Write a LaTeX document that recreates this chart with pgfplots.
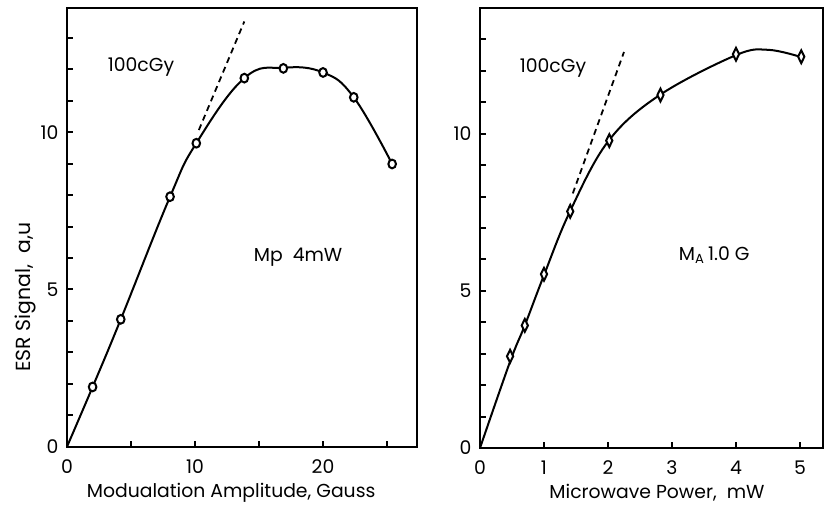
\documentclass[border=0pt]{standalone}
\usepackage{pgfplots}
\pgfplotsset{compat=1.18}
\usepackage{fontspec}
\setmainfont{Poppins}
\begin{document}
\fontsize{9.4}{11}\selectfont
\begin{tikzpicture}
\path[use as bounding box] (0,0) rectangle (412pt,255pt);
\pgfplotsset{
  every axis/.append style={
    scale only axis,
    axis line style={line width=1.2pt},
    /pgf/number format/assume math mode=true,
    every tick/.style={line width=1pt, black},
    every minor tick/.style={line width=1pt, black},
    major tick length=2.8pt, minor tick length=2.8pt,
    tick align=inside,
    xtick pos=bottom, ytick pos=left,
    ymin=0,
    ytick={0,5,10}, minor ytick={1,2,3,4,6,7,8,9,11,12,13},
    xticklabel style={yshift=-3pt},
    yticklabel style={xshift=-1pt},
    clip=false,
  },
}
% Left panel
\begin{axis}[
  at={(33.5pt,31.65pt)}, anchor=south west,
  width=175pt, height=219.35pt,
  xmin=0, xmax=27.34, ymax=13.95,
  xtick={0,10,20}, minor xtick={5,15,25},
  xlabel={Modualation Amplitude, Gauss},
  xlabel style={at={(rel axis cs:0.469,-0.1055)}, anchor=center},
  ylabel={\fontsize{10.2}{12}\selectfont ESR Signal,\ \ a,u},
  ylabel style={at={(rel axis cs:-0.12,0.341)}, anchor=center, rotate=0},
]
\addplot[black, line width=1pt, smooth, tension=0.7] coordinates {
  (0,0) (2,1.9) (4.2,4.05) (8.05,7.95) (10.1,9.65) (13.85,11.72)
  (16.9,12.05) (20,11.9) (22.4,11.11) (25.4,8.99)};
\addplot[black, line width=0.9pt, dash pattern=on 3pt off 2.2pt] coordinates {
  (10.3,10.07) (13.85,13.52)};
\addplot[only marks, mark=*, mark size=1.9pt,
  mark options={fill=white, draw=black, line width=1pt, yscale=1.15}] coordinates {
  (2,1.9) (4.2,4.05) (8.05,7.95) (10.1,9.65) (13.85,11.72)
  (16.9,12.03) (20,11.9) (22.4,11.11) (25.4,8.99)};
\node at (axis cs:5.78,12.08) {100cGy};
\node at (axis cs:18.05,6.03) {Mp\ \ 4mW};
\end{axis}
% Right panel
\begin{axis}[
  at={(240pt,31pt)}, anchor=south west,
  width=171.5pt, height=220pt,
  xmin=0, xmax=5.36, ymax=14,
  xtick={0,1,2,3,4,5},
  xlabel={Microwave Power,\ \ mW},
  xlabel style={at={(rel axis cs:0.516,-0.102)}, anchor=center},
]
\addplot[black, line width=1pt, smooth, tension=0.6] coordinates {
  (0,0) (0.47,2.75) (0.7,3.9) (1.0,5.5) (1.4,7.5) (2.0,9.75)
  (2.8,11.22) (4.0,12.5) (4.5,12.67) (5.0,12.45)};
\addplot[black, line width=0.9pt, dash pattern=on 3pt off 2.2pt] coordinates {
  (1.45,8.1) (2.25,12.6)};
\addplot[only marks, mark=diamond*, mark size=3.2pt,
  mark options={fill=white, draw=black, line width=1pt, xscale=0.65}] coordinates {
  (0.47,2.92) (0.7,3.9) (1.0,5.53) (1.41,7.53) (2.02,9.78)
  (2.82,11.23) (4.0,12.53) (5.02,12.45)};
\node at (axis cs:1.14,12.1) {100cGy};
\node at (axis cs:3.66,6.15) {M\textsubscript{A}\,1.0 G};
\end{axis}
\end{tikzpicture}
\end{document}
